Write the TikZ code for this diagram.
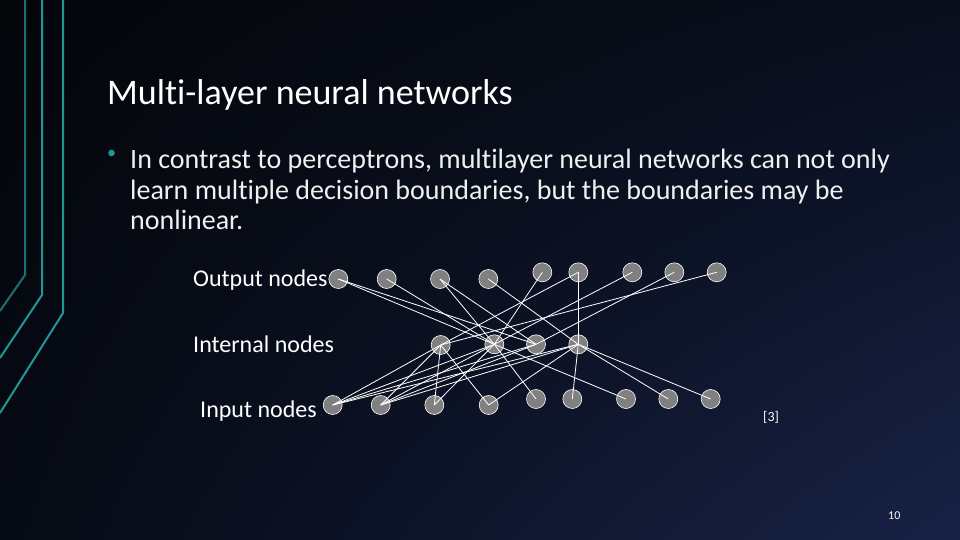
\documentclass[tikz,border=0pt]{standalone}
\usepackage{fontspec}
\setmainfont[Ligatures=NoCommon]{Carlito}
\usepackage{tikz}
\usetikzlibrary{shapes, arrows, positioning, calc, shadings}
\definecolor{bgul}{RGB}{4,6,10}
\definecolor{bgur}{RGB}{8,14,28}
\definecolor{bgll}{RGB}{6,10,20}
\definecolor{bglr}{RGB}{24,34,70}
\definecolor{tealdark}{RGB}{28,112,112}
\definecolor{teallight}{RGB}{34,150,150}
\definecolor{nodegray}{RGB}{128,128,128}

\begin{document}
\begin{tikzpicture}[x=1pt, y=-1pt,
		neuron/.style={circle, draw=white, fill=nodegray, line width=0.6pt, minimum size=19pt, inner sep=0pt},
		link/.style={draw=white, line width=0.8pt},
		layerlabel/.style={anchor=base west, inner sep=0pt, text=white, font=\fontsize{24}{28}\selectfont},
		bullettext/.style={anchor=base west, inner sep=0pt, text=white!94!black, font=\fontsize{28}{30}\selectfont}]
	\useasboundingbox (0,0) rectangle (960,540);
	\shade[upper left=bgul, upper right=bgur, lower left=bgll, lower right=bglr] (0,0) rectangle (960,540);
	\draw[tealdark, line width=2pt] (25,0) -- (25,275) -- (0,311);
	\draw[teallight, line width=2pt] (42,0) -- (42,295) -- (0,358);
	\draw[teallight, line width=2pt] (63,0) -- (63,313) -- (0,413);
	\node[anchor=base west, inner sep=0pt, text=white, font=\fontsize{36}{40}\selectfont] (title) at (107,105) {Multi-layer neural networks};
	\fill[teallight] (111.5,153) circle (3.3pt);
	\node[bullettext] (line1) at (130,169) {In contrast to perceptrons, multilayer neural networks can not only};
	\node[bullettext] (line2) at (130,199) {learn multiple decision boundaries, but the boundaries may be};
	\node[bullettext] (line3) at (130,229) {nonlinear.};
	\node[layerlabel] (outlabel) at (193,286) {Output nodes};
	\node[layerlabel] (intlabel) at (193,352) {Internal nodes};
	\node[layerlabel] (inlabel) at (200,417) {Input nodes};
	\node[anchor=base west, inner sep=0pt, text=white, font=\fontsize{14}{16}\selectfont] (ref) at (763,421) {[3]};
	\node[anchor=base west, inner sep=0pt, text=white, font=\fontsize{12}{14}\selectfont] (page) at (888,519) {10};
	\foreach \name/\x/\y in {o1/338.3/279, o2/386.7/279, o3/440/279, o4/488.3/279, o5/542.3/272.3, o6/578.3/272.3, o7/632.3/272.3, o8/674.3/272.3, o9/716.7/272.3,
			h1/440.7/345, h2/494.3/344.3, h3/536/344.3, h4/578.3/344.3,
			i1/332.7/405, i2/380.7/405, i3/434.3/405, i4/488.7/405, i5/536/399, i6/572.3/399, i7/626/399, i8/668.3/399, i9/710.7/399}
		\node[neuron] (\name) at (\x,\y) {};
	\foreach \from/\to in {o1/h2,o1/h3,o2/h2,o3/h2,o3/h3,o4/h4,o5/h2,o6/h1,o6/h4,o7/h2,o8/h3,o9/h1,
			i1/h1,i1/h2,i1/h3,i1/h4,i2/h1,i2/h2,i2/h3,i2/h4,i3/h1,i3/h2,i4/h1,i4/h4,
			h2/i5,h4/i6,h2/i7,h4/i8,h4/i9}
		\draw[link] (\from.center) -- (\to.center);
\end{tikzpicture}
\end{document}
